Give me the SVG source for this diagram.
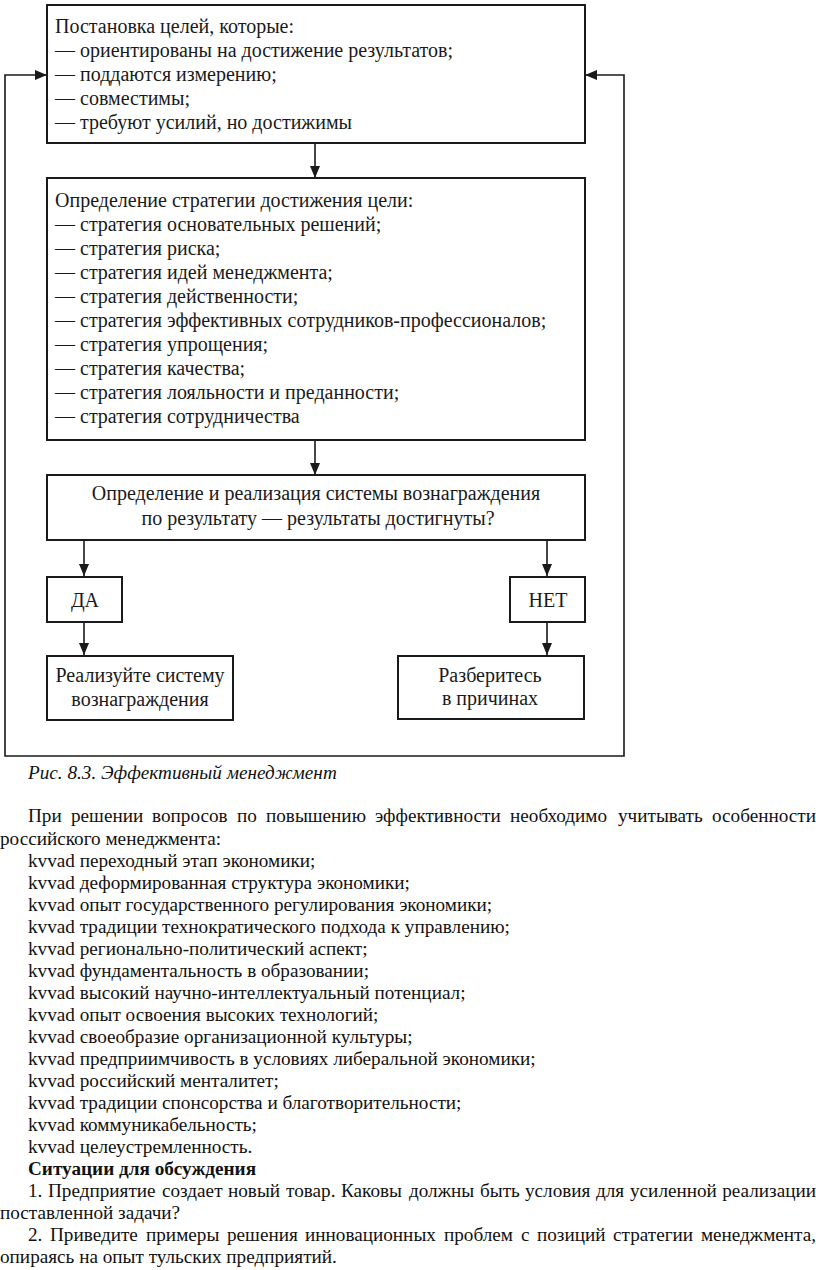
<svg xmlns="http://www.w3.org/2000/svg" width="816" height="1270" viewBox="0 0 816 1270">
<style>
.box{fill:#fff;stroke:#1a1a1a;stroke-width:2}
.t{font-family:"Liberation Serif","Times New Roman",serif;font-size:20px;fill:#1a1a1a}
.c{text-anchor:middle}
.b{font-family:"Liberation Serif","Times New Roman",serif;font-size:19.2px;fill:#111}
.e{text-anchor:end}
.it{font-style:italic}
.bold{font-weight:bold}
.con{fill:none;stroke:#1a1a1a;stroke-width:1.6}
</style>
<defs>
<marker id="ah" viewBox="0 0 12 10" refX="12" refY="5" markerWidth="12" markerHeight="10" markerUnits="userSpaceOnUse" orient="auto-start-reverse">
<path d="M0,0 L12,5 L0,10 z" fill="#1a1a1a"/>
</marker>
</defs>
<rect width="816" height="1270" fill="#fff"/>
<g id="connectors">
<path class="con" d="M47,75 H5 V756 H624 V75 H585" marker-start="url(#ah)" marker-end="url(#ah)"/>
<path class="con" d="M315,143 V178" marker-end="url(#ah)"/>
<path class="con" d="M315,440 V475" marker-end="url(#ah)"/>
<path class="con" d="M84,540 V576" marker-end="url(#ah)"/>
<path class="con" d="M547,540 V576" marker-end="url(#ah)"/>
<path class="con" d="M84,622 V655" marker-end="url(#ah)"/>
<path class="con" d="M547,622 V655" marker-end="url(#ah)"/>
</g>
<g id="goals">
<rect class="box" x="47" y="5" width="538" height="138"/>
<text class="t" x="55" y="33">Постановка целей, которые:</text>
<text class="t" x="55" y="57">— ориентированы на достижение результатов;</text>
<text class="t" x="55" y="81">— поддаются измерению;</text>
<text class="t" x="55" y="105">— совместимы;</text>
<text class="t" x="55" y="129">— требуют усилий, но достижимы</text>
</g>
<g id="strategy">
<rect class="box" x="47" y="178" width="538" height="262"/>
<text class="t" x="55" y="207">Определение стратегии достижения цели:</text>
<text class="t" x="55" y="231">— стратегия основательных решений;</text>
<text class="t" x="55" y="255">— стратегия риска;</text>
<text class="t" x="55" y="279">— стратегия идей менеджмента;</text>
<text class="t" x="55" y="303">— стратегия действенности;</text>
<text class="t" x="55" y="327">— стратегия эффективных сотрудников-профессионалов;</text>
<text class="t" x="55" y="351">— стратегия упрощения;</text>
<text class="t" x="55" y="375">— стратегия качества;</text>
<text class="t" x="55" y="399">— стратегия лояльности и преданности;</text>
<text class="t" x="55" y="423">— стратегия сотрудничества</text>
</g>
<g id="reward">
<rect class="box" x="47" y="475" width="538" height="65"/>
<text class="t c" x="316" y="500">Определение и реализация системы вознаграждения</text>
<text class="t c" x="318" y="525">по результату — результаты достигнуты?</text>
</g>
<g id="yes">
<rect class="box" x="47" y="577" width="75" height="45"/>
<text class="t c" x="85" y="607">ДА</text>
</g>
<g id="no">
<rect class="box" x="510" y="577" width="75" height="45"/>
<text class="t c" x="548" y="607">НЕТ</text>
</g>
<g id="implement">
<rect class="box" x="47" y="656" width="186" height="64"/>
<text class="t c" x="140" y="682">Реализуйте систему</text>
<text class="t c" x="140" y="706">вознаграждения</text>
</g>
<g id="analyze">
<rect class="box" x="398" y="656" width="186" height="63"/>
<text class="t c" x="490" y="682">Разберитесь</text>
<text class="t c" x="490" y="705">в причинах</text>
</g>
<g id="body">
<text class="b it" x="28" y="779">Рис. 8.3. Эффективный менеджмент</text>
<text class="b" y="822"><tspan x="28">При</tspan><tspan x="71">решении</tspan><tspan x="152">вопросов</tspan><tspan x="237">по</tspan><tspan x="266">повышению</tspan><tspan x="375">эффективности</tspan><tspan x="510">необходимо</tspan><tspan x="618">учитывать</tspan></text>
<text class="b e" x="816" y="822">особенности</text>
<text class="b" x="0" y="845">российского менеджмента:</text>
<text class="b" x="28" y="867">kvvad переходный этап экономики;</text>
<text class="b" x="28" y="889">kvvad деформированная структура экономики;</text>
<text class="b" x="28" y="911">kvvad опыт государственного регулирования экономики;</text>
<text class="b" x="28" y="933">kvvad традиции технократического подхода к управлению;</text>
<text class="b" x="28" y="955">kvvad регионально-политический аспект;</text>
<text class="b" x="28" y="977">kvvad фундаментальность в образовании;</text>
<text class="b" x="28" y="999">kvvad высокий научно-интеллектуальный потенциал;</text>
<text class="b" x="28" y="1021">kvvad опыт освоения высоких технологий;</text>
<text class="b" x="28" y="1043">kvvad своеобразие организационной культуры;</text>
<text class="b" x="28" y="1065">kvvad предприимчивость в условиях либеральной экономики;</text>
<text class="b" x="28" y="1087">kvvad российский менталитет;</text>
<text class="b" x="28" y="1109">kvvad традиции спонсорства и благотворительности;</text>
<text class="b" x="28" y="1131">kvvad коммуникабельность;</text>
<text class="b" x="28" y="1153">kvvad целеустремленность.</text>
<text class="b bold" x="28" y="1175">Ситуации для обсуждения</text>
<text class="b" y="1197"><tspan x="28">1.</tspan><tspan x="48">Предприятие</tspan><tspan x="162">создает</tspan><tspan x="228">новый</tspan><tspan x="286">товар.</tspan><tspan x="341">Каковы</tspan><tspan x="409">должны</tspan><tspan x="480">быть</tspan><tspan x="525">условия</tspan><tspan x="596">для</tspan><tspan x="630">усиленной</tspan></text>
<text class="b e" x="816" y="1197">реализации</text>
<text class="b" x="0" y="1219">поставленной задачи?</text>
<text class="b" y="1241"><tspan x="28">2.</tspan><tspan x="50">Приведите</tspan><tspan x="146">примеры</tspan><tspan x="227">решения</tspan><tspan x="305">инновационных</tspan><tspan x="444">проблем</tspan><tspan x="521">с</tspan><tspan x="537">позиций</tspan><tspan x="613">стратегии</tspan></text>
<text class="b e" x="816" y="1241">менеджмента,</text>
<text class="b" x="0" y="1263">опираясь на опыт тульских предприятий.</text>
</g>
</svg>
